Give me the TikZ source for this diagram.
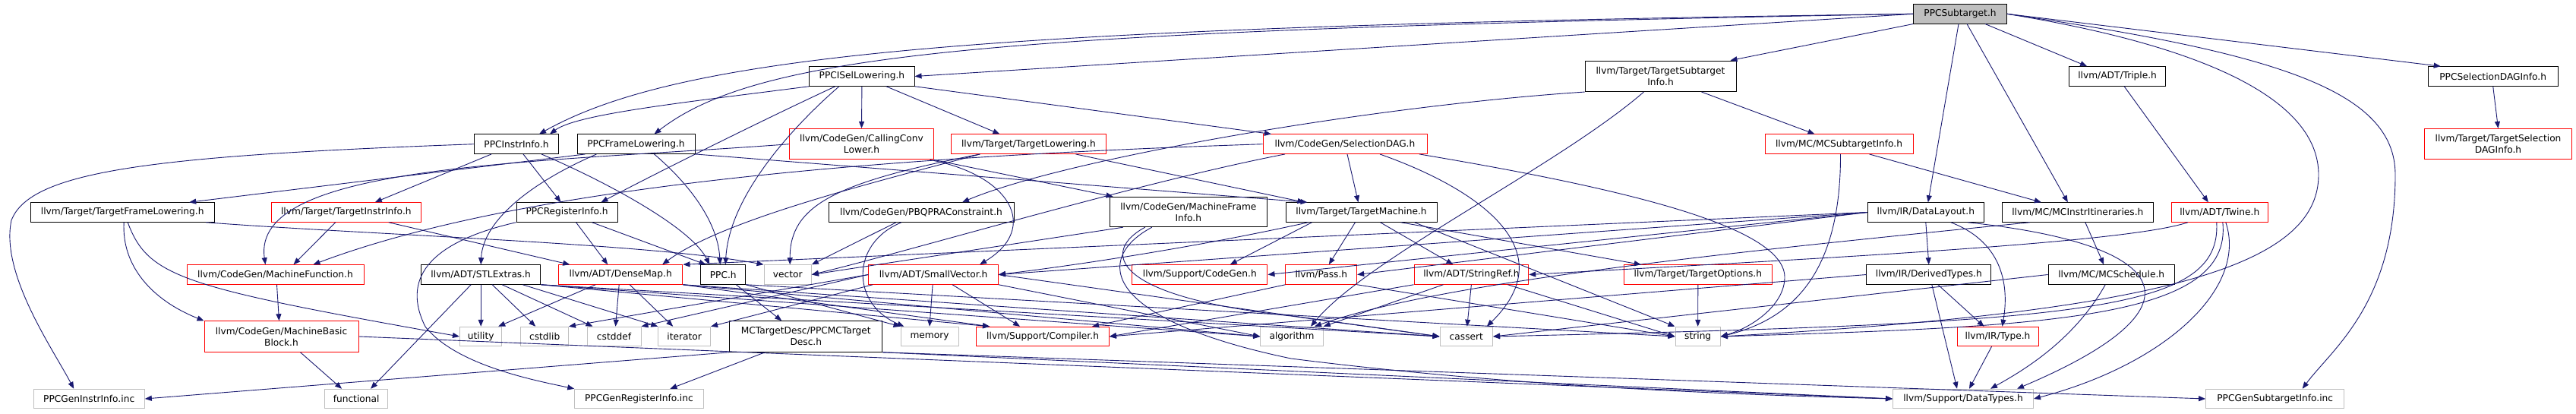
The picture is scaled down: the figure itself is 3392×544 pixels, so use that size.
\documentclass[tikz,border=0pt]{standalone}
\usepackage{fontspec}
\setmainfont{DejaVu Sans}
\usetikzlibrary{arrows.meta}
\definecolor{edgec}{HTML}{191970}
\definecolor{grayc}{HTML}{BFBFBF}
\newcommand{\dxfont}{\fontsize{12.2}{15}\selectfont}
\begin{document}
\begin{tikzpicture}[x=1pt,y=-1pt,
  box/.style={draw=black, fill=white, line width=1pt, inner sep=0pt, font=\dxfont, align=center, minimum height=25.5pt},
  tall/.style={minimum height=40.5pt},
  redbox/.style={box, draw=red},
  sysbox/.style={box, draw=grayc},
  dep/.style={draw=edgec, line width=0.9pt, -{Triangle[length=9pt,width=7pt]}}]
\fill[white] (0,0) rectangle (3392,544);
\path[use as bounding box] (0,0) rectangle (3392,544);
% row 0
\node[box, fill=grayc, minimum width=122.7pt] (S) at (2581,18.3) {PPCSubtarget.h};
% row 1
\node[box, minimum width=138.3pt] (IL) at (1134.9,100.5) {PPCISelLowering.h};
\node[box, tall, minimum width=199pt] (TSI) at (2186.5,100.3) {llvm/Target/TargetSubtarget\\Info.h};
\node[box, minimum width=126.8pt] (TRI) at (2788.1,100.5) {llvm/ADT/Triple.h};
\node[box, minimum width=170.7pt] (SDI) at (3282.7,100.5) {PPCSelectionDAGInfo.h};
% row 2
\node[box, minimum width=111pt] (II) at (680,189.7) {PPCInstrInfo.h};
\node[box, minimum width=155pt] (FL) at (837.5,189.7) {PPCFrameLowering.h};
\node[redbox, tall, minimum width=189.7pt] (CCL) at (1134.5,189.7) {llvm/CodeGen/CallingConv\\Lower.h};
\node[redbox, minimum width=203.3pt] (TL) at (1354.4,189.7) {llvm/Target/TargetLowering.h};
\node[redbox, minimum width=216pt] (SDAG) at (1771,189.7) {llvm/CodeGen/SelectionDAG.h};
\node[redbox, minimum width=195pt] (MCSI) at (2421.5,189.7) {llvm/MC/MCSubtargetInfo.h};
\node[redbox, tall, minimum width=194pt] (TSDI) at (3289.5,189.7) {llvm/Target/TargetSelection\\DAGInfo.h};
% row 3
\node[box, minimum width=242pt] (TFL) at (161.2,279.5) {llvm/Target/TargetFrameLowering.h};
\node[redbox, minimum width=197.5pt] (TII) at (455.8,279.5) {llvm/Target/TargetInstrInfo.h};
\node[box, minimum width=133pt] (RI) at (746.5,279.5) {PPCRegisterInfo.h};
\node[box, minimum width=244pt] (PBQP) at (1213,279.5) {llvm/CodeGen/PBQPRAConstraint.h};
\node[box, tall, minimum width=207.5pt, minimum height=39.4pt] (MFI) at (1564.8,279) {llvm/CodeGen/MachineFrame\\Info.h};
\node[box, minimum width=199pt] (TM) at (1792.5,279.5) {llvm/Target/TargetMachine.h};
\node[box, minimum width=153.5pt] (DL) at (2535.8,279.5) {llvm/IR/DataLayout.h};
\node[box, minimum width=199pt] (MII) at (2735.8,279.5) {llvm/MC/MCInstrItineraries.h};
\node[redbox, minimum width=126.4pt] (TW) at (2922.8,279.5) {llvm/ADT/Twine.h};
% row 4
\node[redbox, minimum width=233pt] (MF) at (362.5,361.5) {llvm/CodeGen/MachineFunction.h};
\node[box, minimum width=157.5pt] (STL) at (633.2,361.5) {llvm/ADT/STLExtras.h};
\node[redbox, minimum width=163.5pt] (DM) at (817.2,361.5) {llvm/ADT/DenseMap.h};
\node[box, minimum width=58.7pt] (PPC) at (952.3,361.5) {PPC.h};
\node[sysbox, minimum width=62.4pt] (VEC) at (1037.2,361.5) {vector};
\node[redbox, minimum width=170.7pt] (SV) at (1229.1,361.5) {llvm/ADT/SmallVector.h};
\node[redbox, minimum width=178.3pt] (SCG) at (1579.8,361.5) {llvm/Support/CodeGen.h};
\node[redbox, minimum width=93.7pt] (PASS) at (1739.8,361.5) {llvm/Pass.h};
\node[redbox, minimum width=150.8pt] (SR) at (1937.4,361.5) {llvm/ADT/StringRef.h};
\node[redbox, minimum width=194.5pt] (TO) at (2235.8,361.5) {llvm/Target/TargetOptions.h};
\node[box, minimum width=163.7pt] (DT) at (2539.8,361.5) {llvm/IR/DerivedTypes.h};
\node[box, minimum width=166.4pt] (MCS) at (2780.2,361.5) {llvm/MC/MCSchedule.h};
% row 5
\node[redbox, tall, minimum width=203pt] (MBB) at (370.5,443) {llvm/CodeGen/MachineBasic\\Block.h};
\node[sysbox, minimum width=55.5pt] (UT) at (633.2,443) {utility};
\node[sysbox, minimum width=62.5pt] (CSL) at (717.2,443) {cstdlib};
\node[sysbox, minimum width=71pt] (CSD) at (808.5,443) {cstddef};
\node[sysbox, minimum width=68.8pt] (IT) at (901.2,443) {iterator};
\node[box, tall, minimum width=200.7pt] (MCTD) at (1061.3,443) {MCTargetDesc/PPCMCTarget\\Desc.h};
\node[sysbox, minimum width=76pt] (MEM) at (1224,443) {memory};
\node[redbox, minimum width=174.6pt] (CMP) at (1373.1,443) {llvm/Support/Compiler.h};
\node[sysbox, minimum width=82.5pt] (ALG) at (1701,443) {algorithm};
\node[sysbox, minimum width=69.6pt] (CAS) at (1930.8,443) {cassert};
\node[sysbox, minimum width=59.4pt] (STR) at (2235.7,443) {string};
\node[redbox, minimum width=107pt] (TY) at (2630.5,443) {llvm/IR/Type.h};
% row 6
\node[sysbox, minimum width=146.3pt] (GII) at (117.2,525) {PPCGenInstrInfo.inc};
\node[sysbox, minimum width=83pt] (FUN) at (469.1,525) {functional};
\node[sysbox, minimum width=169.3pt] (GRI) at (841.4,525) {PPCGenRegisterInfo.inc};
\node[sysbox, minimum width=185pt] (DTY) at (2585,525) {llvm/Support/DataTypes.h};
\node[sysbox, minimum width=182.2pt] (GSI) at (2995.7,525) {PPCGenSubtargetInfo.inc};

% ---- edges from PPCSubtarget.h
\draw[dep] (S.west) .. controls (1300,35) and (900,70) .. ([xshift=30]II.north);
\draw[dep] (S.west) .. controls (1300,40) and (1000,70) .. ([xshift=24]FL.north);
\draw[dep] (S.west) -- (IL.east);
\draw[dep] (S.south west) -- ([xshift=-8]TSI.north east);
\draw[dep] ([xshift=-2]S.south) -- ([xshift=3]DL.north);
\draw[dep] ([xshift=9]S.south) -- ([xshift=-13]MII.north);
\draw[dep] ([xshift=33]S.south) -- ([xshift=-40]TRI.north);
\draw[dep] (S.east) -- ([xshift=-69]SDI.north);
\draw[dep] (S.east) .. controls (2900,60) and (3053,130) .. (3053,230) .. controls (3053,350) and (2850,410) .. (STR.east);
\draw[dep] (S.east) .. controls (3000,70) and (3154,120) .. (3154,230) .. controls (3154,400) and (3070,460) .. ([xshift=36]GSI.north);
% ---- PPCISelLowering.h
\draw[dep] (IL.south west) .. controls (900,135) and (760,150) .. ([xshift=44]II.north);
\draw[dep] (IL.south) -- (CCL.north);
\draw[dep] ([xshift=32]IL.south) -- ([xshift=-38]TL.north);
\draw[dep] (IL.south east) -- ([xshift=-97]SDAG.north);
\draw[dep] ([xshift=-30]IL.south) .. controls (1040,170) and (960,260) .. ([xshift=3]PPC.north);
\draw[dep] ([xshift=-35]IL.south) .. controls (1000,160) and (860,230) .. ([xshift=45]RI.north);
% ---- PPCInstrInfo.h
\draw[dep] (II.west) .. controls (200,205) and (40,225) .. (15,290) .. controls (0,360) and (70,460) .. ([xshift=-20]GII.north);
\draw[dep] ([xshift=-33]II.south) -- ([xshift=38]TII.north);
\draw[dep] ([xshift=9]II.south) -- ([xshift=-8]RI.north);
\draw[dep] ([xshift=33]II.south) .. controls (800,240) and (910,300) .. ([xshift=-18]PPC.north);
% ---- PPCFrameLowering.h
\draw[dep] ([xshift=-67]FL.south) -- ([xshift=88]TFL.north);
\draw[dep] ([xshift=-52]FL.south) .. controls (700,240) and (636,290) .. (STL.north);
\draw[dep] ([xshift=24]FL.south) .. controls (905,240) and (945,290) .. ([xshift=-4]PPC.north);
\draw[dep] (FL.south east) -- ([xshift=-71]TM.north);
% ---- TargetSubtargetInfo.h
\draw[dep] (TSI.south west) .. controls (1800,140) and (1400,210) .. ([xshift=54]PBQP.north);
\draw[dep] ([xshift=54]TSI.south) -- ([xshift=-32]MCSI.north);
\draw[dep] ([xshift=-22]TSI.south) .. controls (2050,220) and (1800,340) .. ([xshift=25]ALG.north);
% ---- Triple, SelectionDAGInfo
\draw[dep] ([xshift=9]TRI.south) -- ([xshift=-15]TW.north);
\draw[dep] (SDI.south) -- (TSDI.north);
% ---- CallingConvLower.h
\draw[dep] (CCL.west) .. controls (700,215) and (330,215) .. ([xshift=-13]MF.north);
\draw[dep] ([xshift=90]CCL.south) .. controls (1330,230) and (1370,300) .. ([xshift=61]SV.north);
\draw[dep] (CCL.south east) -- ([xshift=5]MFI.north west);
% ---- TargetLowering.h
\draw[dep] ([xshift=62]TL.south) -- ([xshift=-75]TM.north);
\draw[dep] ([xshift=-64]TL.south) .. controls (1150,240) and (950,290) .. ([xshift=55]DM.north);
\draw[dep] ([xshift=-64]TL.south) .. controls (1100,240) and (1040,270) .. ([xshift=3]VEC.north);
% ---- SelectionDAG.h
\draw[dep] ([xshift=3]SDAG.south) -- ([xshift=-4]TM.north);
\draw[dep] (SDAG.west) .. controls (1200,205) and (700,240) .. ([xshift=50]MF.north);
\draw[dep] ([xshift=-79]SDAG.south) .. controls (1500,240) and (1200,330) .. (VEC.east);
\draw[dep] ([xshift=46]SDAG.south) .. controls (1950,250) and (2060,330) .. ([xshift=27]CAS.north);
\draw[dep] ([xshift=98]SDAG.south) .. controls (2150,250) and (2350,300) .. (2350,365) .. controls (2350,400) and (2310,430) .. (STR.east);
% ---- MCSubtargetInfo.h
\draw[dep] ([xshift=40]MCSI.south) -- ([xshift=-48]MII.north);
\draw[dep] ([xshift=2]MCSI.south) .. controls (2424,360) and (2360,420) .. (STR.east);
% ---- TargetFrameLowering.h
\draw[dep] ([xshift=2]TFL.south) .. controls (160,350) and (200,395) .. (MBB.north west);
\draw[dep] ([xshift=7]TFL.south) .. controls (195,365) and (240,378) .. (UT.west);
\draw[dep] ([xshift=110]TFL.south) .. controls (500,310) and (850,320) .. (VEC.north west);
% ---- TargetInstrInfo.h
\draw[dep] ([xshift=-14]TII.south) -- ([xshift=24]MF.north);
\draw[dep] ([xshift=56]TII.south) -- ([xshift=-67]DM.north);
% ---- PPCRegisterInfo.h
\draw[dep] ([xshift=33]RI.south) -- ([xshift=7]PPC.north west);
\draw[dep] ([xshift=12]RI.south) -- ([xshift=-17]DM.north);
\draw[dep] (RI.south west) .. controls (560,320) and (530,370) .. (560,430) .. controls (600,480) and (700,500) .. (GRI.north west);
% ---- PBQPRAConstraint.h
\draw[dep] ([xshift=-33]PBQP.south) -- (VEC.north east);
\draw[dep] ([xshift=-26]PBQP.south) .. controls (1120,320) and (1120,400) .. ([xshift=5]MEM.north west);
% ---- MachineFrameInfo.h
\draw[dep] ([xshift=-86]MFI.south) -- (VEC.east);
\draw[dep] ([xshift=-57]MFI.south) .. controls (1450,330) and (1460,390) .. (1700,416) -- (CAS.west);
\draw[dep] ([xshift=-48]MFI.south) .. controls (1440,340) and (1450,420) .. (1700,472) .. controls (2000,510) and (2300,520) .. (DTY.west);
% ---- TargetMachine.h
\draw[dep] ([xshift=-65]TM.south) -- ([xshift=40]SCG.north);
\draw[dep] ([xshift=-8]TM.south) -- ([xshift=10]PASS.north);
\draw[dep] ([xshift=25]TM.south) -- ([xshift=-24]SR.north);
\draw[dep] ([xshift=52]TM.south) -- ([xshift=-75]TO.north);
\draw[dep] ([xshift=70]TM.south) -- (STR.north west);
\draw[dep] ([xshift=-70]TM.south) .. controls (1600,320) and (1450,345) .. (SV.east);
% ---- DataLayout.h
\draw[dep] (DL.south) -- (DT.north);
\draw[dep] ([xshift=33]DL.south) .. controls (2640,320) and (2645,380) .. ([xshift=6]TY.north);
\draw[dep] ([xshift=55]DL.south) .. controls (2850,320) and (2920,400) .. ([xshift=71]DTY.north);
\draw[dep] (DL.west) -- (PASS.east);
\draw[dep] (DL.west) -- (SV.east);
\draw[dep] (DL.west) -- (DM.north east);
\draw[dep] (DL.west) -- (SCG.east);
% ---- MCInstrItineraries.h
\draw[dep] ([xshift=10]MII.south) -- ([xshift=-10]MCS.north);
\draw[dep] ([xshift=-63]MII.south) .. controls (2300,330) and (1900,370) .. ([xshift=30]ALG.north);
% ---- Twine.h
\draw[dep] ([xshift=-42]TW.south) .. controls (2800,320) and (2400,340) .. (SR.east);
\draw[dep] ([xshift=-4]TW.south) .. controls (2925,410) and (2750,425) .. (CAS.east);
\draw[dep] ([xshift=4]TW.south) .. controls (2940,420) and (2700,430) .. (STR.east);
\draw[dep] ([xshift=8]TW.south) .. controls (2960,380) and (2850,480) .. (DTY.east);
% ---- DerivedTypes.h
\draw[dep] ([xshift=12]DT.south) -- ([xshift=-18]TY.north);
\draw[dep] ([xshift=4]DT.south) -- ([xshift=-8]DTY.north);
\draw[dep] (DT.west) -- (CMP.east);
% ---- MCSchedule.h
\draw[dep] ([xshift=-8]MCS.south) .. controls (2730,450) and (2660,490) .. ([xshift=36]DTY.north);
\draw[dep] (MCS.west) -- (CAS.east);
% ---- Type.h
\draw[dep] ([xshift=-8]TY.south) -- ([xshift=8]DTY.north);
% ---- StringRef.h
\draw[dep] (SR.south) -- ([xshift=1]CAS.north);
\draw[dep] ([xshift=-37]SR.south) -- (ALG.north east);
\draw[dep] ([xshift=48]SR.south) -- (STR.west);
\draw[dep] (SR.south west) -- (CMP.east);
% ---- TargetOptions.h
\draw[dep] (TO.south) -- (STR.north);
% ---- Pass.h
\draw[dep] (PASS.south west) -- ([xshift=65]CMP.north);
\draw[dep] (PASS.south east) -- (STR.west);
% ---- SmallVector.h
\draw[dep] ([xshift=-1]SV.south) -- (MEM.north);
\draw[dep] ([xshift=25]SV.south) -- ([xshift=-30]CMP.north);
\draw[dep] ([xshift=-80]SV.south) -- (IT.north east);
\draw[dep] (SV.west) -- (CSD.north east);
\draw[dep] (SV.west) -- (CSL.north east);
\draw[dep] (SV.south east) -- (ALG.west);
\draw[dep] (SV.east) -- (CAS.west);
% ---- DenseMap.h
\draw[dep] ([xshift=-33]DM.south) -- ([xshift=23]UT.north);
\draw[dep] ([xshift=-2]DM.south) -- ([xshift=2]CSD.north);
\draw[dep] ([xshift=12]DM.south) -- ([xshift=-15]IT.north);
\draw[dep] (DM.south east) -- ([xshift=-70]CMP.north);
\draw[dep] (DM.south east) -- (ALG.west);
\draw[dep] (DM.south east) -- (CAS.west);
% ---- STLExtras.h
\draw[dep] ([xshift=-13]STL.south) -- ([xshift=19]FUN.north);
\draw[dep] (STL.south) -- (UT.north);
\draw[dep] ([xshift=15]STL.south) -- ([xshift=-12]CSL.north);
\draw[dep] ([xshift=28]STL.south) -- ([xshift=-28]CSD.north);
\draw[dep] ([xshift=55]STL.south) -- (IT.north west);
\draw[dep] (STL.south east) -- ([xshift=-70]CMP.north);
\draw[dep] (STL.south east) -- (ALG.west);
\draw[dep] (STL.south east) -- (CAS.west);
% ---- PPC.h
\draw[dep] ([xshift=17]PPC.south) -- ([xshift=-32]MCTD.north);
\draw[dep] (PPC.south east) -- (MEM.north west);
\draw[dep] (PPC.south east) -- (STR.west);
% ---- PPCMCTargetDesc.h
\draw[dep] (MCTD.south west) -- (GII.east);
\draw[dep] ([xshift=-54]MCTD.south) -- ([xshift=41]GRI.north);
\draw[dep] (MCTD.south east) -- (DTY.west);
\draw[dep] (MCTD.south east) -- (GSI.west);
% ---- MachineBasicBlock.h / MachineFunction.h
\draw[dep] ([xshift=25]MBB.south) -- ([xshift=-19]FUN.north);
\draw[dep] (MBB.east) -- (DTY.west);
\draw[dep] ([xshift=2]MF.south) -- ([xshift=-3]MBB.north);
\end{tikzpicture}
\end{document}
